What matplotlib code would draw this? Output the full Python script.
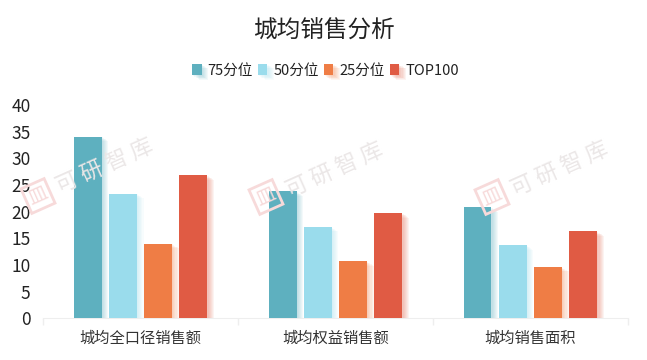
import numpy as np
import matplotlib
matplotlib.use("Agg")
import matplotlib.pyplot as plt
from matplotlib import patheffects as pe

plt.rcParams['font.family'] = ['Noto Sans CJK SC', 'DejaVu Sans']

categories = ["城均全口径销售额", "城均权益销售额", "城均销售面积"]
series_names = ["75分位", "50分位", "25分位", "TOP100"]
p75 = [34.1, 23.8, 20.8]
p50 = [23.4, 17.1, 13.7]
p25 = [14.0, 10.7, 9.6]
top100 = [26.8, 19.7, 16.3]
yticks = [0, 5, 10, 15, 20, 25, 30, 35, 40]

colors = ["#5eb0bf", "#9adcec", "#ef7d45", "#e05b44"]

fig = plt.figure(figsize=(6.47, 3.6), dpi=100)
ax = fig.add_axes([0.0665, 0.1153, 0.904, 0.5930])

x = np.arange(len(categories))
width = 0.1436
step = 0.181
series = [p75, p50, p25, top100]
for i, (vals, name, c) in enumerate(zip(series, series_names, colors)):
    shadow = [pe.SimplePatchShadow(offset=(k * 0.8, -k * 0.5), shadow_rgbFace=c, alpha=0.07)
              for k in range(1, 7)]
    ax.bar(x + (i - 1.5) * step, vals, width, color=c, label=name,
           path_effects=shadow + [pe.Normal()], zorder=3)

ax.set_xlim(-0.5, len(categories) - 0.5)
ax.set_ylim(0, 40)
ax.set_yticks(yticks)
ax.set_xticks(x)
ax.set_xticklabels(categories, fontsize=11, color="#333333")
ax.set_xticks(np.arange(len(categories) + 1) - 0.5, minor=True)
ax.tick_params(axis="x", which="major", length=0, pad=8)
ax.tick_params(axis="x", which="minor", length=5, color="#eeeeee", width=1)
ax.tick_params(axis="y", length=0, pad=9, labelsize=12.5, labelcolor="#222222")
for s in ["top", "right", "left"]:
    ax.spines[s].set_visible(False)
ax.spines["bottom"].set_color("#eeeeee")

fig.text(0.5, 0.912, "城均销售分析", ha="center", va="center", fontsize=17, color="#222222")

leg = fig.legend(loc="center", bbox_to_anchor=(0.503, 0.803), ncol=4, frameon=False,
                 fontsize=10.5, handlelength=0.65, handleheight=0.8,
                 handletextpad=0.4, columnspacing=0.35, labelcolor="#222222")

# watermark
for lx, ly, tx, ty in [(38, 196, 105, 167), (266, 197, 335, 171), (492, 197, 560, 170)]:
    fig.text(tx / 647, 1 - ty / 360, "可 研 智 库", ha="center", va="center", rotation=24,
             fontsize=16, color="#ebe7e7", zorder=0)
    fig.text(lx / 647, 1 - ly / 360, "皿", ha="center", va="center", rotation=24,
             fontsize=14, color="#f7dada", zorder=0,
             bbox=dict(boxstyle="square,pad=0.15", fc="none", ec="#f7dada", lw=2))

fig.savefig("out.png", dpi=100)
